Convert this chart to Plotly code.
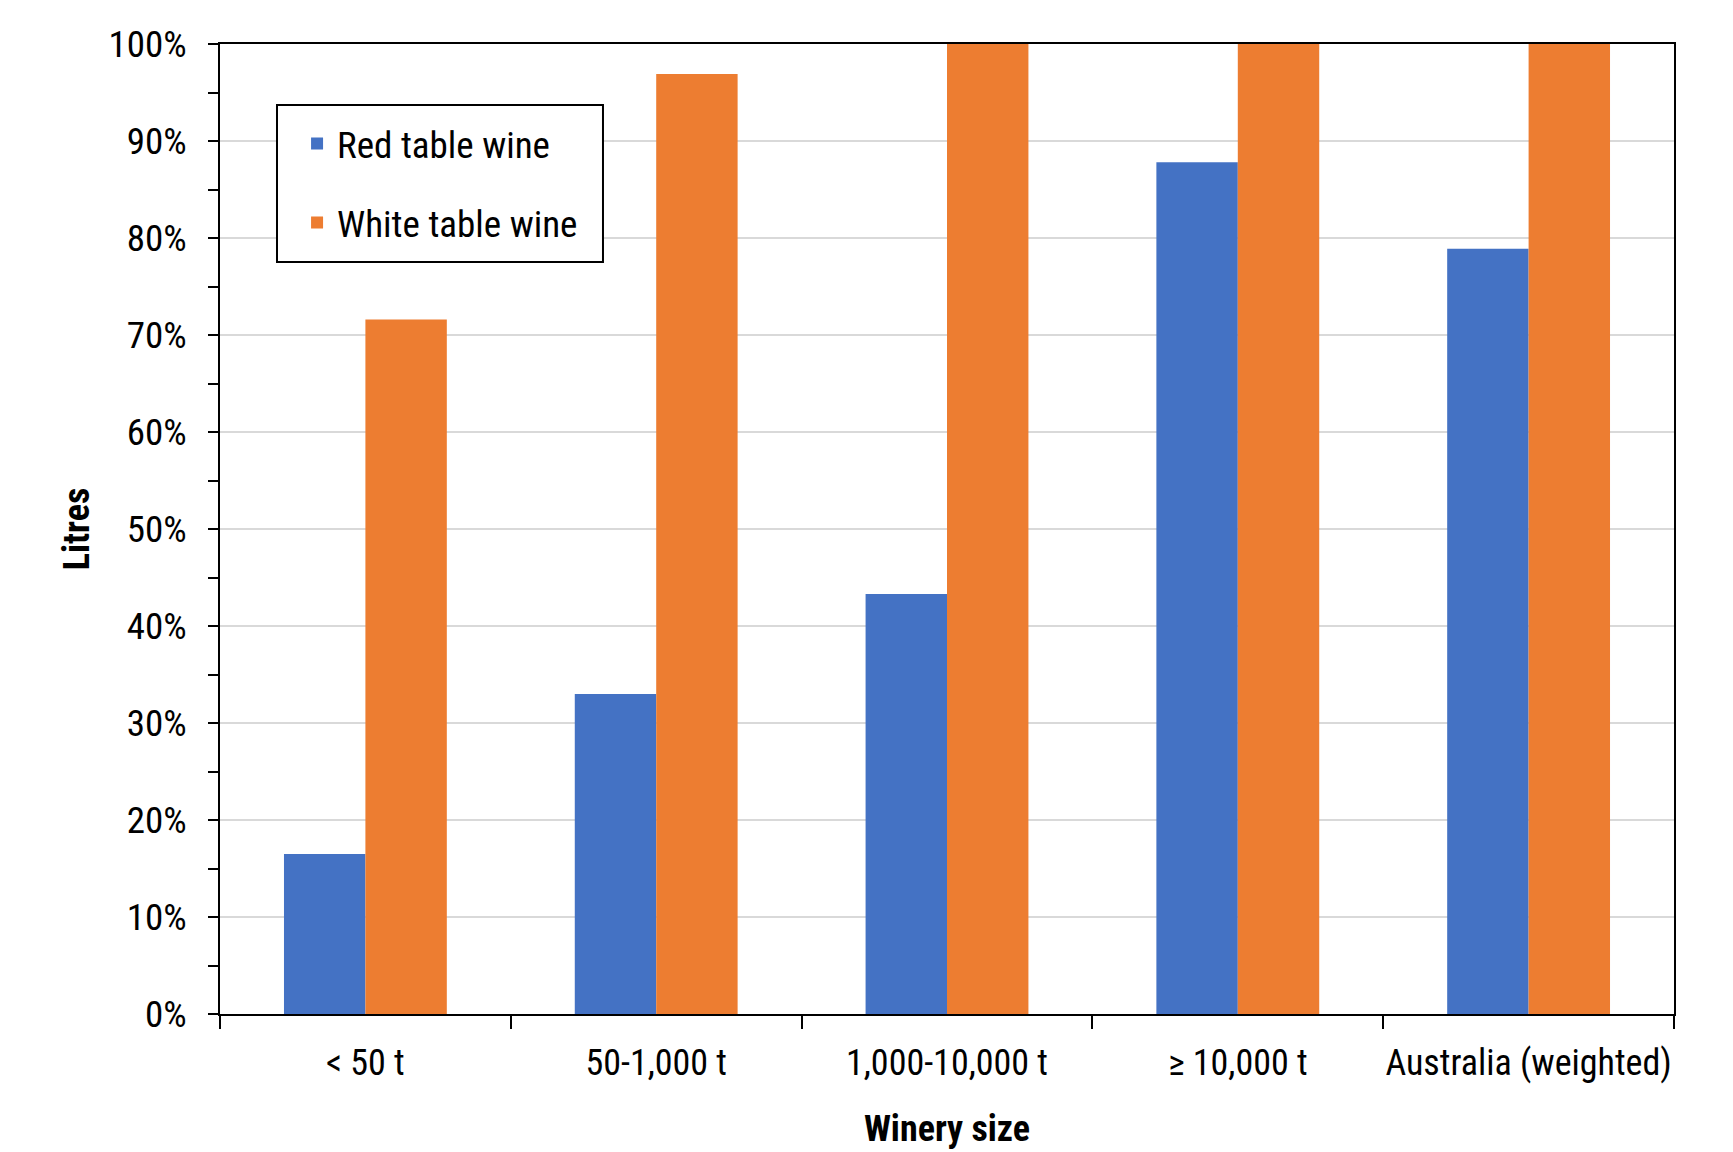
import plotly.graph_objects as go

categories = ["< 50 t", "50-1,000 t", "1,000-10,000 t", "≥ 10,000 t", "Australia (weighted)"]
red_values = [16.5, 33.0, 43.3, 87.8, 78.9]
white_values = [71.6, 96.9, 100.0, 100.0, 100.0]
y_ticks = [0, 10, 20, 30, 40, 50, 60, 70, 80, 90, 100]
y_tick_labels = [f"{v}%" for v in y_ticks]

FONT = "Liberation Sans Narrow, Arial Narrow, Roboto Condensed, Liberation Sans, Arial, sans-serif"

fig = go.Figure()
fig.add_trace(go.Bar(x=categories, y=red_values, name="Red table wine",
                     marker=dict(color="#4472C4", line=dict(width=0)), legendgroup="r"))
fig.add_trace(go.Bar(x=categories, y=white_values, name="White table wine",
                     marker=dict(color="#ED7D31", line=dict(width=0)), legendgroup="w"))

fig.update_layout(
    width=1733, height=1152,
    margin=dict(l=212, r=67, t=36, b=146),
    paper_bgcolor="white", plot_bgcolor="white",
    barmode="group", bargap=0.44, bargroupgap=0,
    font=dict(family=FONT, size=36, color="black"),
    showlegend=True,
    legend=dict(x=0.053, y=0.929, xanchor="left", yanchor="top",
                borderwidth=0, bgcolor="rgba(0,0,0,0)",
                font=dict(size=37), tracegroupgap=28, traceorder="grouped"),
    shapes=[dict(type="rect", xref="paper", yref="paper",
                 x0=0.0392, x1=0.2634, y0=0.7753, y1=0.937,
                 line=dict(color="black", width=2), fillcolor="white", layer="above")],
)
fig.update_xaxes(
    showline=True, linecolor="black", linewidth=2, mirror=True,
    ticks="outside", tickson="boundaries", ticklen=13, tickwidth=2, tickcolor="black",
    ticklabelstandoff=16, tickangle=0, automargin=False,
    tickfont=dict(size=36),
    title=dict(text="<b>Winery size</b>", font=dict(size=36), standoff=33),
    showgrid=False,
)
fig.update_yaxes(
    range=[0, 100], tickvals=y_ticks, ticktext=y_tick_labels,
    showline=True, linecolor="black", linewidth=2, mirror=True,
    ticks="outside", ticklen=10, tickwidth=2, tickcolor="black",
    ticklabelstandoff=14, automargin=False,
    tickfont=dict(size=37),
    minor=dict(dtick=5, ticks="outside", ticklen=10, tickwidth=2, tickcolor="black", showgrid=False),
    showgrid=True, gridcolor="#d9d9d9", gridwidth=2,
    title=dict(text="<b>Litres</b>", font=dict(size=36), standoff=8),
    zeroline=False,
)

fig.write_html("out.html")
